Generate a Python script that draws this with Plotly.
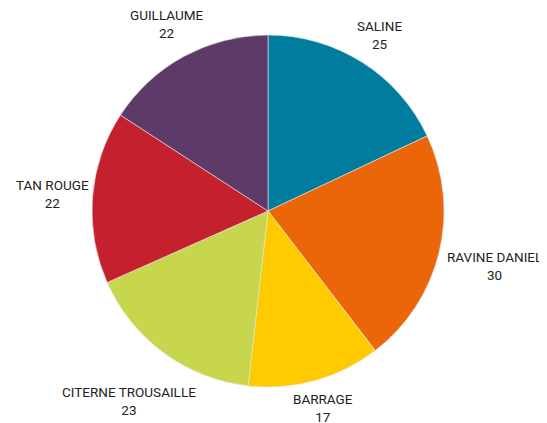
import math
import plotly.graph_objects as go

labels = ['SALINE', 'RAVINE DANIEL', 'BARRAGE', 'CITERNE TROUSAILLE', 'TAN ROUGE', 'GUILLAUME']
values = [25, 30, 17, 23, 22, 22]
colors = ['#007C9E', '#EB6608', '#FFCB00', '#C8D64E', '#C4202D', '#5E3A68']

# page body has an 8px margin, so the figure is sized to fit what is left of the window
off = 8
W, H = 547 - off, 423 - off
# pie geometry in pixels
cx, cy, rad = 268 - off, 211 - off, 176

fig = go.Figure(go.Pie(
    labels=labels, values=values,
    sort=False, direction='clockwise', rotation=0,
    marker=dict(colors=colors, line=dict(color='#E6E6E6', width=0.6)),
    textinfo='none',
    domain=dict(x=[(cx - rad) / W, (cx + rad) / W], y=[(H - cy - rad) / H, (H - cy + rad) / H]),
    showlegend=False, hoverinfo='label+value',
))

# outside labels, placed radially at each slice's mid angle
total = sum(values)
cum = 0
char_w, box_h, gap = 7.6, 35, 5
for lab, val in zip(labels, values):
    ang = (cum + val / 2) / total * 2 * math.pi
    cum += val
    s, c = math.sin(ang), math.cos(ang)
    w = char_w * len(lab)
    d = rad + gap + w / 2 * abs(s) + box_h / 2 * abs(c)
    px_, py_ = cx + d * s, cy - d * c
    fig.add_annotation(
        x=px_ / W, y=1 - py_ / H, xref='paper', yref='paper',
        text='%s<br>%d' % (lab, val), showarrow=False,
        xanchor='center', yanchor='middle', align='center',
        font=dict(family='Roboto', size=13.5, color='#222222'),
    )

fig.update_layout(
    width=W, height=H,
    margin=dict(l=0, r=0, t=0, b=0),
    paper_bgcolor='white', plot_bgcolor='white',
)
fig.write_html('out.html')
